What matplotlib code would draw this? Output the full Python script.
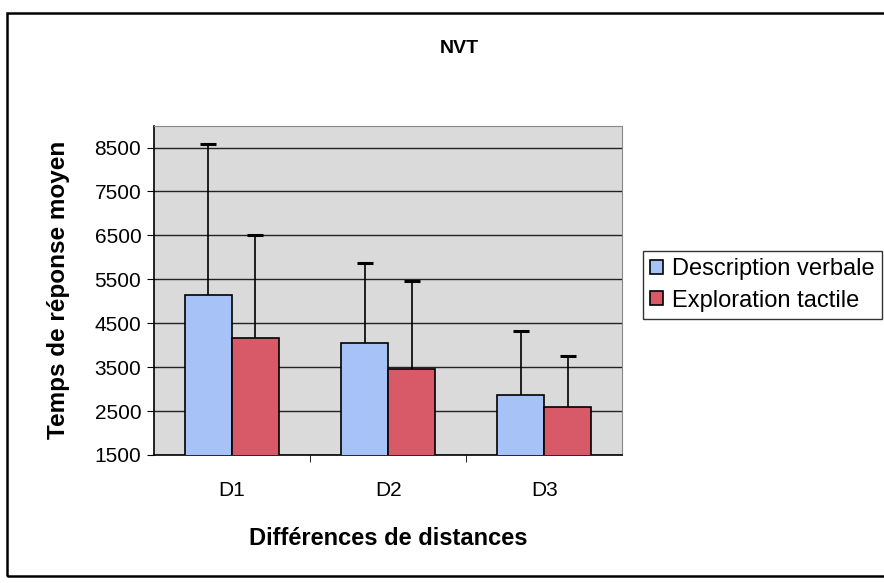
import numpy as np
import matplotlib.pyplot as plt
from matplotlib.patches import Rectangle

categories = ['D1', 'D2', 'D3']
series_names = ['Description verbale', 'Exploration tactile']
verbale = [5150, 4060, 2860]
tactile = [4170, 3450, 2600]
verbale_err = [3440, 1820, 1465]
tactile_err = [2330, 2010, 1155]
yticks = [1500, 2500, 3500, 4500, 5500, 6500, 7500, 8500]

c_blue = '#a6c2f6'
c_red = '#d85a68'

plt.rcParams['font.family'] = ['Liberation Sans', 'DejaVu Sans']

fig = plt.figure(figsize=(8.84, 5.83), dpi=100)
# outer chart frame
fig.patches.append(Rectangle((0.008, 0.012), 1.2, 0.965, transform=fig.transFigure,
                             fill=False, edgecolor='black', linewidth=1.8))

ax = fig.add_axes([0.174, 0.2196, 0.530, 0.565])
ax.set_facecolor('#dadada')

x = np.arange(len(categories))
w = 0.3
ekw = dict(ecolor='black', elinewidth=1.2, capsize=6, capthick=2.2)
b1 = ax.bar(x - w / 2, verbale, w, color=c_blue, edgecolor='black', linewidth=1.2,
            label=series_names[0], zorder=3, yerr=[[0] * 3, verbale_err], error_kw=ekw)
b2 = ax.bar(x + w / 2, tactile, w, color=c_red, edgecolor='black', linewidth=1.2,
            label=series_names[1], zorder=3, yerr=[[0] * 3, tactile_err], error_kw=ekw)
# only the upper cap
for b in (b1, b2):
    caps = b.errorbar.lines[1]
    caps[0].set_visible(False)

ax.set_ylim(1500, 9000)
ax.set_xlim(-0.5, 2.5)
ax.set_yticks(yticks)
ax.set_yticklabels([str(v) for v in yticks], fontsize=15)
ax.set_xticks(x)
ax.set_xticklabels(categories, fontsize=15)
ax.tick_params(axis='x', which='major', length=0, pad=19)
ax.set_xticks([0.5, 1.5], minor=True)
ax.tick_params(axis='x', which='minor', length=5, direction='out')
ax.tick_params(axis='y', length=5, direction='out', pad=4)
ax.yaxis.grid(True, color='#222222', linewidth=1.0, zorder=0)
ax.set_axisbelow(True)
for s in ['top', 'right']:
    ax.spines[s].set_color('#888888')
for s in ['left', 'bottom']:
    ax.spines[s].set_color('black')
    ax.spines[s].set_linewidth(1.2)

ax.set_ylabel('Temps de réponse moyen', fontsize=17.5, fontweight='bold', labelpad=18)
ax.set_xlabel('Différences de distances', fontsize=17, fontweight='bold', labelpad=19)
fig.text(0.52, 0.917, 'NVT', ha='center', va='center', fontsize=14, fontweight='bold')

leg = ax.legend(loc='upper left', bbox_to_anchor=(1.018, 0.655), fontsize=17,
                frameon=True, fancybox=False, edgecolor='black', handlelength=0.55,
                handleheight=0.55, handletextpad=0.4, borderpad=0.3, labelspacing=0.4)
leg.get_frame().set_linewidth(1.0)

fig.savefig('out.png', dpi=100)
